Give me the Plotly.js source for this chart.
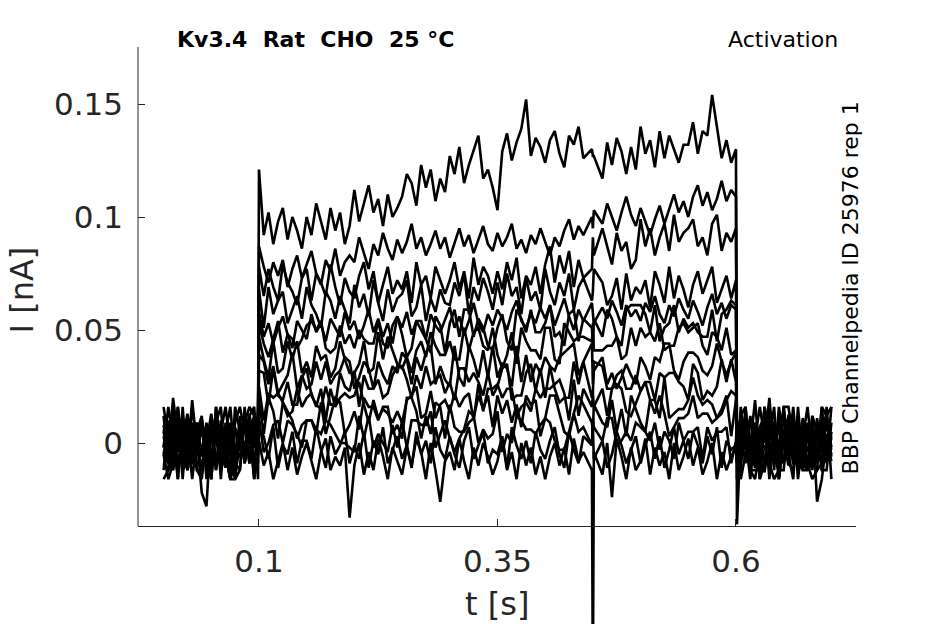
<!DOCTYPE html>
<html><head><meta charset="utf-8">
<script src="https://cdn.plot.ly/plotly-3.0.1.min.js"></script>
<style>html,body{margin:0;padding:0;background:#fff}</style>
</head><body><div id="chart" style="width:945px;height:624px"></div>
<script>
// time of each sample, ms
const timeMs = [0,5,10,15,20,25,30,35,40,45,50,55,60,65,70,75,80,85,90,95,99,
100,105,110,115,120,125,130,135,140,145,150,155,160,165,170,175,180,185,190,195,
200,205,210,215,220,225,230,235,240,245,250,255,260,265,270,275,280,285,290,295,
300,305,310,315,320,325,330,335,340,345,350,355,360,365,370,375,380,385,390,395,
400,405,410,415,420,425,430,435,440,449,450,451,460,465,470,475,480,485,490,495,
500,505,510,515,520,525,530,535,540,545,550,555,560,565,570,575,580,585,590,595,600,
601,605,610,615,620,625,630,635,640,645,650,655,660,665,670,675,680,685,690,695,700];

// current of each sweep, pA
const sweep01 = [3,-8,11,-4,6,-12,2,9,-6,0,13,-9,5,-3,8,-11,4,-7,10,-2,1,
121,92,102,88,98,104,90,100,94,86,100,92,106,98,90,104,94,102,88,96,
112,98,106,114,102,108,96,110,100,104,109,119,115,105,123,113,121,107,117,111,
127,119,131,115,123,129,136,117,121,113,103,129,137,125,133,139,152,127,135,131,
124,134,138,128,122,136,132,140,126,130,127,127,117,133,123,135,129,119,131,121,
140,128,134,122,138,126,136,130,124,132,132,142,128,138,136,154,141,126,134,124,130,
-36,4,-9,12,-3,7,-11,1,9,-6,14,-2,5,-10,3,8,-7,11,-4,2,-8];
const sweep02 = [-5,7,-10,2,12,-3,-8,5,10,-1,-7,3,-12,6,1,-4,9,-9,4,-6,-2,
87,78,71,80,74,81,69,77,83,73,79,85,75,70,81,76,86,74,80,83,
80,91,84,77,88,83,93,86,81,90,84,89,97,86,91,83,88,94,86,91,
82,88,95,87,92,84,90,96,88,85,93,87,91,97,86,90,84,92,88,95,
89,83,91,87,94,99,90,96,92,100,95,103,97,106,100,94,102,109,101,96,
104,98,92,99,105,97,103,110,102,107,100,109,114,105,111,103,108,116,107,112,109,
3,-7,10,-2,-11,6,0,20,-5,8,-9,2,-4,11,-8,5,-1,9,-12,4,-3];
const sweep03 = [8,-4,-11,5,1,-7,19,-2,6,-9,3,10,-6,-1,7,-13,2,11,-5,4,0,
78,65,77,69,63,79,71,67,61,73,77,63,75,71,65,79,69,61,73,67,
64,74,80,68,76,62,70,78,66,72,68,76,62,80,70,74,64,78,72,66,
72,80,68,76,64,82,70,78,74,66,76,68,80,72,82,64,74,70,78,66,
79,87,71,83,75,85,69,81,73,77,91,83,95,87,79,93,85,89,77,81,
99,87,95,83,91,97,85,101,89,93,95,99,87,91,83,97,101,85,93,89,95,
-6,9,-3,1,-10,7,12,-5,3,-8,6,-1,10,-12,2,-4,8,-7,5,13,-2];
const sweep04 = [-2,10,-7,4,-12,8,1,-5,11,-3,-9,6,2,-11,9,-4,5,-8,13,-1,3,
68,51,69,57,63,67,53,59,65,55,69,61,57,51,67,63,55,65,59,53,
70,60,66,56,72,62,54,68,58,64,66,72,56,60,70,54,64,58,68,62,
61,71,65,75,57,69,63,73,67,59,71,61,75,65,69,57,73,63,67,59,
77,67,61,71,65,75,59,69,73,63,67,77,71,61,65,73,59,75,63,69,
66,72,60,76,70,62,78,64,74,68,60,70,76,66,72,78,62,68,74,64,72,
5,-8,2,11,-4,-10,7,0,-6,12,-2,4,-9,8,1,-12,6,-3,10,-7,3];
const sweep05 = [6,-3,9,-10,1,13,-6,-1,8,-8,4,-12,10,0,-5,7,-2,12,-9,3,-4,
58,47,53,44,51,56,48,42,54,50,46,57,49,53,45,55,51,47,58,50,
54,46,52,59,49,55,47,53,44,56,51,58,48,54,50,46,57,52,49,55,
60,51,56,48,54,62,53,49,57,52,59,55,50,58,63,54,51,57,53,60,
55,61,52,58,64,56,50,59,54,62,57,53,60,55,63,58,52,61,56,59,
54,62,58,65,57,53,61,56,64,59,55,63,58,52,60,66,57,62,55,61,59,
-9,3,12,-1,19,-7,-13,4,9,-3,1,-10,7,-5,11,2,-8,5,-2,9,-6];
const sweep06 = [-9,-12,-2,12,-16,12,5,2,-12,-5,-9,12,-9,-5,-16,5,5,-2,9,-16,16,
53,44,38,46,54,40,48,46,42,46,52,54,50,54,42,40,42,52,44,48,
42,50,46,44,44,54,44,42,52,56,48,38,42,54,54,46,40,56,52,40,
53,59,47,59,59,47,55,51,43,41,51,57,45,41,59,55,49,59,49,49,
53,61,47,49,43,57,59,45,55,51,43,55,47,59,55,47,43,59,61,61,
61,57,49,61,45,51,53,61,49,55,51,53,49,47,47,59,45,57,59,63,61,
-8,12,-2,-2,5,-16,16,2,2,-16,2,12,-9,-9,-5,-12,9,-9,2,-5,2];
const sweep07 = [-16,-12,16,-16,16,-12,-2,2,5,-2,12,2,5,5,16,-9,-5,-2,5,-16,-5,
47,37,29,45,31,33,45,37,45,31,36,29,43,37,39,29,33,45,37,31,
31,35,45,31,33,49,37,47,41,35,33,38,31,41,45,38,49,43,39,39,
45,37,37,51,41,49,51,43,41,51,39,33,39,49,35,51,45,41,41,37,
51,51,37,35,53,49,45,47,47,45,53,41,41,43,43,47,37,39,51,43,
51,47,49,45,53,41,43,43,51,53,49,51,53,43,39,49,47,41,51,39,41,
-2,12,5,-12,-16,-2,2,-2,-5,-9,5,5,-2,12,-9,-12,-5,-5,16,-5,5];
const sweep08 = [16,2,-12,16,-2,-12,2,-12,-12,5,-16,16,-2,-5,-5,-16,2,9,-9,9,-16,
39,36,26,34,22,26,30,40,24,30,24,26,36,28,36,26,30,32,38,36,
24,29,36,33,24,36,30,26,34,31,40,37,26,38,32,40,43,26,34,28,
25,43,29,25,43,37,29,41,29,43,29,35,33,25,43,27,39,27,35,31,
38,34,32,38,40,42,44,30,36,44,26,32,38,26,31,24,29,35,30,26,
38,34,28,38,36,44,44,32,28,36,40,40,38,32,30,34,44,36,30,36,40,
-5,5,2,9,2,16,2,16,-12,16,2,-5,-16,16,-9,-12,12,5,-12,-12,9];
const sweep09 = [5,-5,20,2,-9,-9,-2,9,-5,9,-12,16,-16,9,-16,-9,-12,9,16,12,5,
32,31,17,33,21,19,27,17,17,29,33,21,17,15,25,17,17,31,25,23,
32,16,30,24,24,28,20,22,30,34,34,28,20,30,24,34,26,28,30,22,
27,19,33,33,27,31,27,21,31,21,25,33,35,19,21,21,31,35,23,33,
20,34,24,18,20,20,36,26,36,20,22,36,34,24,24,30,32,24,24,30,
23,27,27,19,31,29,31,31,27,25,19,35,31,19,23,21,25,37,27,37,27,
-16,16,-2,-5,9,-16,-9,9,9,-16,2,-5,16,-9,-12,9,-12,9,5,-9,16];
const sweep10 = [-2,16,2,12,2,-5,9,-12,-16,2,-16,9,16,-9,-9,9,16,5,12,16,-9,
25,10,22,20,22,18,12,14,24,16,20,22,16,24,10,24,16,20,22,20,
21,27,17,9,19,11,15,13,9,14,9,19,21,25,11,13,23,11,17,19,
14,22,16,20,22,10,26,14,24,24,26,20,24,24,12,16,18,14,24,20,
24,24,26,28,22,10,28,12,24,16,22,16,24,12,24,26,24,14,12,18,
23,27,19,19,11,29,11,13,15,15,19,29,21,17,19,17,11,13,19,23,21,
2,12,16,-9,-5,2,-2,-9,-16,-12,16,16,2,5,-12,-12,-9,-12,-9,16,-16];
const sweep11 = [-5,-16,-9,5,-2,-9,2,-9,-9,-5,-16,12,-9,2,-5,-5,-2,-2,5,12,2,
19,4,20,14,2,18,14,10,2,8,10,10,4,18,4,12,20,18,4,8,
14,6,20,16,16,10,16,16,4,8,2,20,20,14,2,12,4,18,16,2,
17,7,5,5,9,11,21,15,21,7,21,13,19,9,17,7,21,17,19,3,
11,21,21,13,5,3,13,21,17,9,5,17,9,7,19,5,15,3,21,15,
9,5,19,13,21,13,3,7,11,11,13,21,11,13,13,9,11,15,21,3,19,
2,-16,-5,2,-9,5,-12,16,-5,-12,-12,12,12,-12,9,-12,5,-9,9,-2,4];
const sweep12 = [-5,-9,-12,9,-12,-9,-9,5,12,-16,5,5,-12,-5,-16,-16,-12,16,-9,9,12,
11,-4,0,8,10,0,10,8,4,-2,10,10,6,4,10,8,4,0,0,-2,
-4,12,2,12,-2,4,0,-4,8,-2,10,-2,10,10,8,8,14,-2,4,10,
2,-4,2,6,14,12,0,6,2,4,14,-4,4,0,12,10,6,6,4,8,
11,9,1,-3,-3,5,13,5,7,-1,11,7,1,11,11,-1,1,5,1,9,
7,5,1,9,-3,5,1,-7,9,1,5,5,7,-7,7,1,5,5,7,-9,1,
9,5,5,-12,-12,-12,16,2,16,-16,16,-9,-12,5,-2,-9,-16,-12,16,12,16];
const sweep13 = [12,-9,2,-16,9,-5,16,-2,-12,5,-9,12,2,-5,-16,16,5,-2,9,-12,2,
6,3,-7,7,-11,-1,-5,5,-9,1,1,-7,7,-3,-11,3,-5,-1,5,-9,
-1,-7,5,-11,1,-5,7,-9,-3,3,-7,-1,-11,5,-5,1,-9,7,-3,-7,
3,-5,-11,1,7,-7,-1,5,-9,-3,-5,3,-11,7,-1,-7,1,-9,5,-3,
-7,1,7,-5,-11,5,-3,-9,3,-1,7,-7,1,-11,-5,5,-1,-9,-3,3,
-9,-1,5,-7,3,-11,-3,7,-5,1,-7,5,-1,-9,3,-5,7,-11,1,-3,-1,
5,-12,16,-5,9,-9,12,-16,2,-2,16,-5,5,-9,9,-12,12,-26,-16,2,-5];
const sweep14 = [-12,9,-2,16,-9,5,-16,2,-22,-28,9,-12,5,16,-2,-16,12,-9,2,9,-5,
1,-10,-4,-16,-8,0,-12,-2,-14,-6,0,-8,-16,-4,2,-12,-6,-10,-2,-33,
-10,0,-14,-4,-12,2,-6,-16,-2,-8,-14,-2,-10,2,-4,-16,0,-12,-26,-8,
-4,-12,2,-8,-16,-2,-10,0,-6,-14,-8,2,-12,-4,-16,0,-10,-2,-14,-6,
-16,-6,0,-10,-2,-14,2,-8,-4,-12,-110,-4,-14,0,-24,2,-6,-16,-2,-12,
-8,2,-14,-2,-10,-4,-16,0,-12,-6,2,-10,-2,-14,-8,0,-16,-4,-12,-6,-2,
-9,12,2,-16,5,-5,16,-12,9,-2,-9,5,12,-16,2,16,-5,9,-12,-2,5];

const sweeps = [sweep01,sweep02,sweep03,sweep04,sweep05,sweep06,sweep07,
                sweep08,sweep09,sweep10,sweep11,sweep12,sweep13,sweep14];

const xTickVals = [0.1, 0.35, 0.6];
const xTickText = ['0.1', '0.35', '0.6'];
const yTickVals = [0, 0.05, 0.1, 0.15];
const yTickText = ['0', '0.05', '0.1', '0.15'];

sweeps.forEach((s, i) => {
  if (s.length !== timeMs.length) console.error('sweep ' + (i + 1) + ' has ' + s.length + ' samples, expected ' + timeMs.length);
});

const tSec = timeMs.map(v => v / 1000);
const traces = sweeps.map(s => ({
  x: tSec, y: s.map(v => v / 1000),
  type: 'scatter', mode: 'lines',
  line: {color: '#000000', width: 2.6},
  hoverinfo: 'skip', showlegend: false
}));

const axisColor = '#262626';
const xAxisPos = 0.16984;
const layout = {
  width: 945, height: 624,
  margin: {l: 138, r: 89, t: 47, b: 0, pad: 0},
  paper_bgcolor: '#ffffff', plot_bgcolor: '#ffffff',
  showlegend: false,
  font: {family: 'DejaVu Sans', color: axisColor},
  xaxis: {
    range: [-0.0268, 0.7258], anchor: 'free', position: xAxisPos,
    showline: true, linecolor: axisColor, linewidth: 1,
    ticks: 'inside', ticklen: 7, tickwidth: 1, tickcolor: axisColor,
    tickvals: xTickVals, ticktext: xTickText, ticklabelstandoff: 8,
    showgrid: false, zeroline: false,
    tickfont: {family: 'DejaVu Sans', size: 31, color: axisColor}
  },
  yaxis: {
    range: [-0.08009, 0.17522],
    showline: false,
    ticks: 'inside', ticklen: 7, tickwidth: 1, tickcolor: axisColor,
    tickvals: yTickVals, ticktext: yTickText, ticklabelstandoff: 14,
    showgrid: false, zeroline: false,
    tickfont: {family: 'DejaVu Sans', size: 31, color: axisColor}
  },
  shapes: [{type: 'line', xref: 'paper', yref: 'paper', x0: 0, x1: 0, y0: xAxisPos, y1: 1,
            line: {color: axisColor, width: 1}}],
  annotations: [
    {text: '<b>Kv3.4\u00a0\u00a0Rat\u00a0\u00a0CHO\u00a0\u00a025\u00a0°C</b>', xref: 'paper', yref: 'paper',
     x: 0.0515, y: 1.013, xanchor: 'left', yanchor: 'middle', showarrow: false,
     font: {family: 'DejaVu Sans', size: 22, color: '#000000'}},
    {text: 'Activation', xref: 'paper', yref: 'paper',
     x: 0.8983, y: 1.013, xanchor: 'center', yanchor: 'middle', showarrow: false,
     font: {family: 'DejaVu Sans', size: 22, color: '#000000'}},
    {text: 'BBP Channelpedia ID 25976 rep 1', xref: 'paper', yref: 'paper',
     x: 0.993, y: 0.5832, xanchor: 'center', yanchor: 'middle', textangle: -90, showarrow: false,
     font: {family: 'DejaVu Sans', size: 22, color: '#000000'}},
    {text: 'I [nA]', xref: 'paper', yref: 'paper',
     x: -0.1609, y: 0.5789, xanchor: 'center', yanchor: 'middle', textangle: -90, showarrow: false,
     font: {family: 'DejaVu Sans', size: 32, color: axisColor}},
    {text: 't [s]', xref: 'paper', yref: 'paper',
     x: 0.5, y: 0.0347, xanchor: 'center', yanchor: 'middle', showarrow: false,
     font: {family: 'DejaVu Sans', size: 32, color: axisColor}}
  ]
};

Plotly.newPlot('chart', traces, layout, {displayModeBar: false, staticPlot: true});
</script>
</body></html>
